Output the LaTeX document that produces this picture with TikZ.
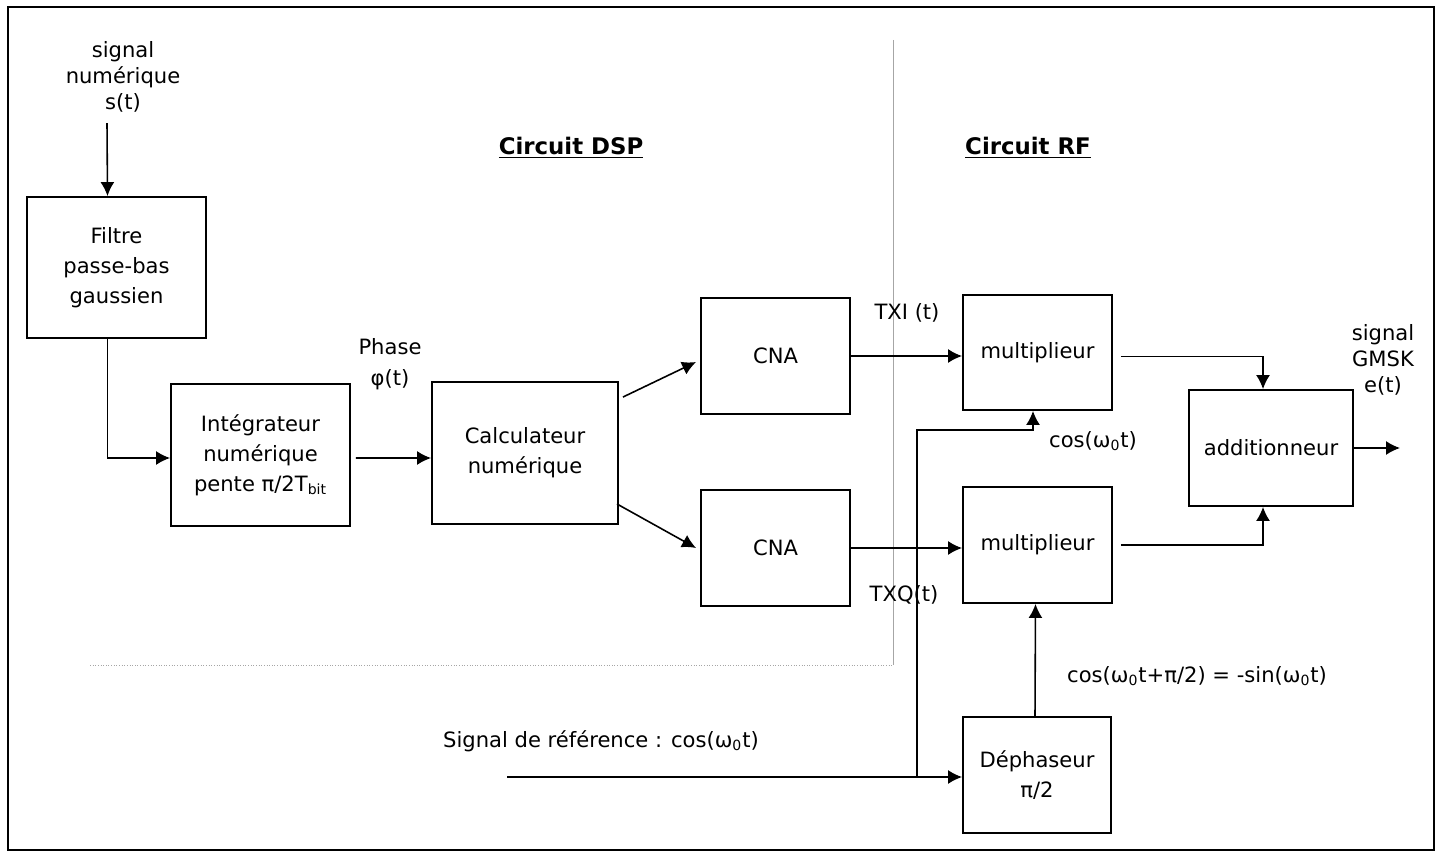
\documentclass[tikz,border=0pt]{standalone}
\usepackage{fontspec}
\setmainfont{DejaVu Sans}
\usepackage{tikz}
\usetikzlibrary{arrows.meta,positioning,calc}

\begin{document}
\begin{tikzpicture}[
    x=0.02cm, y=-0.02cm,
    box/.style={draw, line width=1.1pt, align=center, inner sep=2pt, font={\fontsize{12}{17}\selectfont}},
    arr/.style={-{Latex[length=2.8mm,width=2.8mm]}, line width=0.9pt},
    lbl/.style={align=center, inner sep=0pt, font={\fontsize{12}{15}\selectfont}},
    ttl/.style={inner sep=0pt, font={\fontsize{13}{15}\selectfont\bfseries}},
    sep/.style={gray!70, line width=0.5pt}
]
\useasboundingbox (0,0) rectangle (1447,855);
\draw[line width=1.1pt] (8,7) rectangle (1434,850);

% zones DSP / RF
\draw[sep] (893,40) -- (893,665);
\draw[sep, densely dotted] (90,665) -- (893,665);
\node[ttl] (dsp) at (571,148) {\underline{Circuit DSP}};
\node[ttl] (rf) at (1028,148) {\underline{Circuit RF}};

% blocs
\node[box, minimum width=3.58cm, minimum height=2.82cm] (filt) at (116.5,267.5) {Filtre\\passe-bas\\gaussien};
\node[box, minimum width=3.58cm, minimum height=2.84cm] (integ) at (260.5,455) {Intégrateur\\numérique\\pente π/2T\textsubscript{bit}};
\node[box, minimum width=3.72cm, minimum height=2.84cm] (calc) at (525,453) {Calculateur\\numérique};
\node[box, minimum width=2.98cm, minimum height=2.32cm] (cna1) at (775.5,356) {CNA};
\node[box, minimum width=2.98cm, minimum height=2.32cm] (cna2) at (775.5,548) {CNA};
\node[box, minimum width=2.98cm, minimum height=2.30cm] (mult1) at (1037.5,352.5) {multiplieur};
\node[box, minimum width=2.98cm, minimum height=2.32cm] (mult2) at (1037.5,545) {multiplieur};
\node[box, minimum width=3.28cm, minimum height=2.32cm] (add) at (1271,448) {additionneur};
\node[box, minimum width=2.96cm, minimum height=2.32cm] (deph) at (1037,775) {Déphaseur\\π/2};

% textes
\node[lbl] (sig) at (123,77) {signal\\numérique\\s(t)};
\node[lbl, font={\fontsize{12}{18}\selectfont}] (phase) at (390,364) {Phase\\φ(t)};
\node[lbl] (txi) at (907,313) {TXI (t)};
\node[lbl] (txq) at (904,595) {TXQ(t)};
\node[lbl] (gmsk) at (1383,360) {signal\\GMSK\\e(t)};
\node[lbl] (cosi) at (1093,441) {cos(ω\textsubscript{0}t)};
\node[lbl] (cosq) at (1197,676) {cos(ω\textsubscript{0}t+π/2) = -sin(ω\textsubscript{0}t)};
\node[lbl] (refl) at (601,741) {Signal de référence : cos(ω\textsubscript{0}t)};

\coordinate (ref) at (507,777);
\coordinate (br) at (917,777);
\coordinate (out) at (1400,448);

% liaisons
\draw[arr] ([shift={(-16,10)}]sig.south) -- ([xshift=-0.18cm]filt.north);
\draw[arr] ([xshift=-0.18cm]filt.south) |- ([yshift=-0.06cm]integ.west);
\draw[arr] ([shift={(5,3)}]integ.east) -- ([yshift=-0.1cm]calc.west);
\draw[arr] ([shift={(4,16)}]calc.north east) -- ([shift={(-4,6)}]cna1.west);
\draw[arr] ([shift={(-2,-21)}]calc.south east) -- ([xshift=-0.08cm]cna2.west);
\draw[arr] (cna1.east) -- (cna1.east -| mult1.west);
\draw[arr] (cna2.east) -- (cna2.east -| mult2.west);
\draw[arr] ([shift={(8,4)}]mult1.east) -| ([xshift=-0.16cm]add.north);
\draw[arr] ([xshift=0.16cm]mult2.east) -| ([xshift=-0.16cm]add.south);
\draw[arr] (add.east) -- (out);
\draw[arr] (ref) -- (ref -| deph.west);
\draw[arr] (br) -- ++(0,-347) -| ([xshift=-0.09cm]mult1.south);
\draw[arr] ([xshift=-0.04cm]deph.north) -- ([xshift=-0.04cm]mult2.south);
\end{tikzpicture}
\end{document}
